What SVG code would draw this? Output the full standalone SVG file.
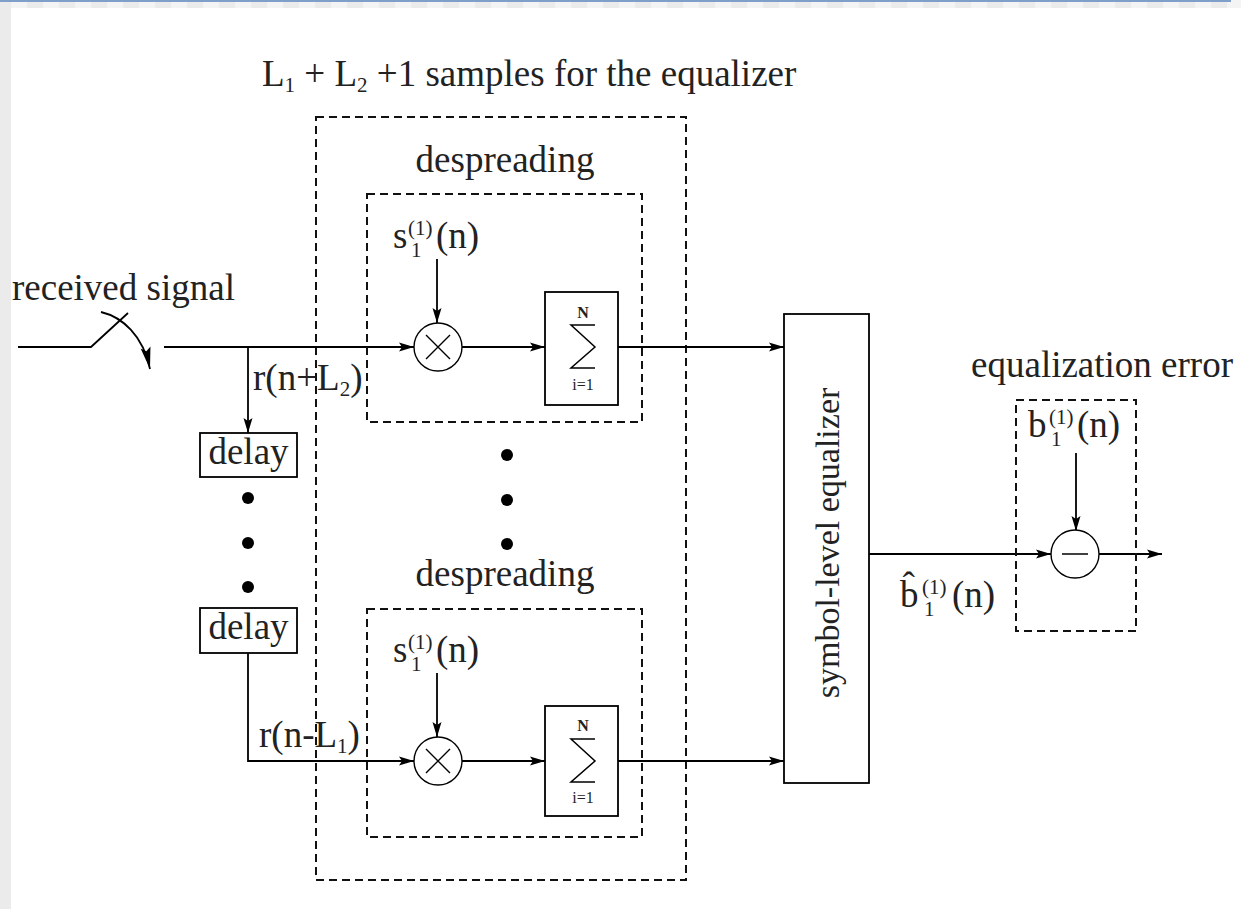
<svg xmlns="http://www.w3.org/2000/svg" width="1241" height="909" viewBox="0 0 1241 909">
<style>
text{font-family:"Liberation Serif","Times New Roman",serif;fill:#222;font-size:37px}
.sm{font-size:21px}
.tiny{font-size:16px;font-weight:bold}
.ln{fill:none;stroke:#000;stroke-width:1.8}
.box{fill:#fff;stroke:#000;stroke-width:1.8}
.dash{fill:none;stroke:#111;stroke-width:2;stroke-dasharray:8 5}
.op{fill:#fff;stroke:#000;stroke-width:1.4}
.dot{fill:#000}
</style>
<defs>
<pattern id="chk" x="11" y="0" width="32" height="8" patternUnits="userSpaceOnUse">
<rect x="0" y="0" width="16" height="8" fill="#f4f4f4"/>
<rect x="16" y="0" width="16" height="8" fill="#ebebeb"/>
</pattern>
<marker id="ah" markerUnits="userSpaceOnUse" markerWidth="16" markerHeight="12" refX="15" refY="6" orient="auto">
<path d="M0,1.5 L15,6 L0,10.5 L3,6 Z" fill="#000"/>
</marker>
<marker id="ah2" markerUnits="userSpaceOnUse" markerWidth="24" markerHeight="12" refX="22" refY="6" orient="auto">
<path d="M0,1 L22,6 L0,11 L4,6 Z" fill="#000"/>
</marker>
</defs>
<rect x="0" y="0" width="1241" height="909" fill="#fff"/>
<rect x="0" y="0" width="1241" height="8" fill="url(#chk)"/>
<rect x="0" y="0" width="11" height="909" fill="#ebebeb"/>
<rect x="0" y="0" width="1231" height="2" fill="#7f9fca"/>

<g id="group-outer">
<rect class="dash" x="316" y="117" width="370" height="763"/>
<text x="262" y="86">L<tspan class="sm" dy="6">1</tspan><tspan dy="-6"> + L</tspan><tspan class="sm" dy="6">2</tspan><tspan dy="-6"> +1 samples for the equalizer</tspan></text>
</g>

<g id="connectors">
<path class="ln" d="M18,347 H91 L128,313"/>
<path class="ln" d="M101,312 C122,317 143,335 150,369" marker-end="url(#ah2)"/>
<path class="ln" d="M164,347 H414" marker-end="url(#ah)"/>
<path class="ln" d="M248,347 V433" marker-end="url(#ah)"/>
<path class="ln" d="M248,653 V761 H414" marker-end="url(#ah)"/>
<path class="ln" d="M437,259 V323" marker-end="url(#ah)"/>
<path class="ln" d="M437,673 V737" marker-end="url(#ah)"/>
<path class="ln" d="M462,347 H545" marker-end="url(#ah)"/>
<path class="ln" d="M462,761 H545" marker-end="url(#ah)"/>
<path class="ln" d="M618,347 H784" marker-end="url(#ah)"/>
<path class="ln" d="M618,761 H784" marker-end="url(#ah)"/>
<path class="ln" d="M869,554 H1051" marker-end="url(#ah)"/>
<path class="ln" d="M1076,453 V531" marker-end="url(#ah)"/>
<path class="ln" d="M1099,554 H1162" marker-end="url(#ah)"/>
</g>

<g id="switch-label">
<text x="12" y="300">received signal</text>
</g>

<g id="label-rnL2">
<text x="253" y="390">r(n+L<tspan class="sm" dy="6">2</tspan><tspan dy="-6">)</tspan></text>
</g>
<g id="label-rnL1">
<text x="259" y="747">r(n-L<tspan class="sm" dy="6">1</tspan><tspan dy="-6">)</tspan></text>
</g>

<g id="delay1">
<rect class="box" x="200" y="433" width="97" height="44"/>
<text x="248.5" y="464" text-anchor="middle">delay</text>
</g>
<g id="delay-dots">
<circle class="dot" cx="248" cy="498" r="6"/>
<circle class="dot" cx="248" cy="543" r="6"/>
<circle class="dot" cx="248" cy="587" r="6"/>
</g>
<g id="delay2">
<rect class="box" x="200" y="608" width="97" height="45"/>
<text x="248.5" y="639" text-anchor="middle">delay</text>
</g>

<g id="despread1">
<rect class="dash" x="367" y="194" width="275" height="228"/>
<text x="505" y="172" text-anchor="middle">despreading</text>
<text x="393" y="248">s</text>
<text class="sm" x="408" y="235">(1)</text>
<text class="sm" x="411" y="257">1</text>
<text x="436" y="248">(n)</text>
<circle class="op" cx="438" cy="347" r="24"/>
<path class="ln" d="M426,335 L450,359 M450,335 L426,359" style="stroke-width:1.4"/>
<rect class="box" x="545" y="292" width="73" height="113"/>
<text class="tiny" x="583" y="318" text-anchor="middle">N</text>
<path class="ln" d="M595,325 H571 L595,347 L571,368 H595" style="stroke-width:1.5"/>
<text class="tiny" x="583" y="390" text-anchor="middle" style="font-weight:normal">i=1</text>
</g>

<g id="middle-dots">
<circle class="dot" cx="507" cy="455" r="6"/>
<circle class="dot" cx="507" cy="500" r="6"/>
<circle class="dot" cx="507" cy="544" r="6"/>
</g>

<g id="despread2">
<rect class="dash" x="367" y="609" width="275" height="228"/>
<text x="505" y="586" text-anchor="middle">despreading</text>
<text x="393" y="662">s</text>
<text class="sm" x="408" y="649">(1)</text>
<text class="sm" x="411" y="671">1</text>
<text x="436" y="662">(n)</text>
<circle class="op" cx="438" cy="761" r="24"/>
<path class="ln" d="M426,749 L450,773 M450,749 L426,773" style="stroke-width:1.4"/>
<rect class="box" x="545" y="706" width="73" height="110"/>
<text class="tiny" x="583" y="731" text-anchor="middle">N</text>
<path class="ln" d="M595,739 H571 L595,761 L571,782 H595" style="stroke-width:1.5"/>
<text class="tiny" x="583" y="803" text-anchor="middle" style="font-weight:normal">i=1</text>
</g>

<g id="equalizer">
<rect class="box" x="784" y="314" width="85" height="469"/>
<text transform="translate(839,543) rotate(-90)" text-anchor="middle" style="font-size:34px">symbol-level equalizer</text>
</g>

<g id="bhat-label">
<text x="900" y="607">b̂</text>
<text class="sm" x="922" y="594">(1)</text>
<text class="sm" x="924" y="616">1</text>
<text x="952" y="607">(n)</text>
</g>

<g id="eq-error">
<rect class="dash" x="1016" y="400" width="120" height="231"/>
<text x="1233" y="377" text-anchor="end">equalization error</text>
<text x="1028" y="437">b</text>
<text class="sm" x="1049" y="424">(1)</text>
<text class="sm" x="1051" y="446">1</text>
<text x="1077" y="437">(n)</text>
<circle class="op" cx="1075" cy="554" r="24"/>
<path class="ln" d="M1062,554 H1088" style="stroke-width:1.5"/>
</g>
</svg>
